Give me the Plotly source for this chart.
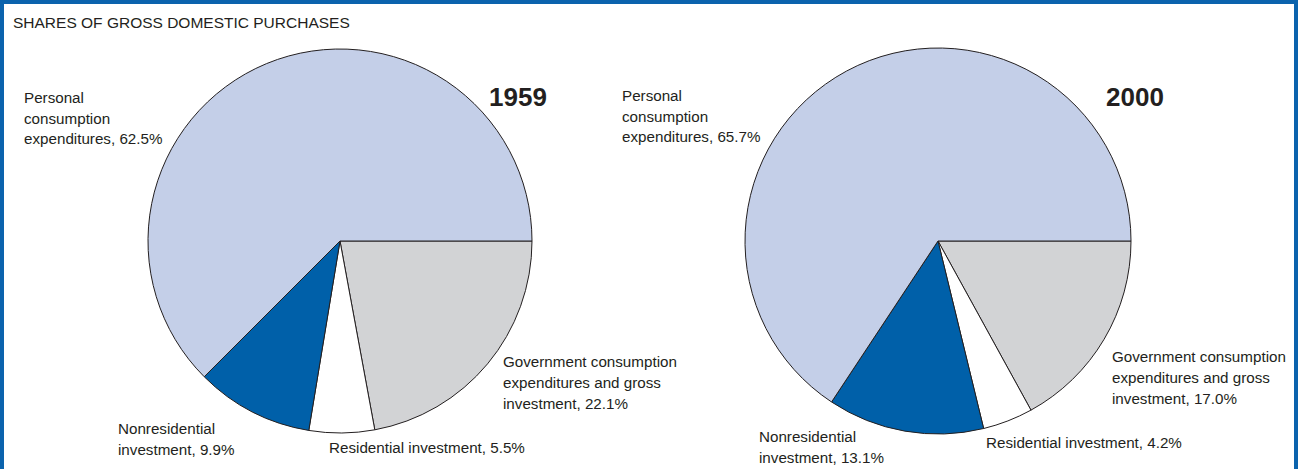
import plotly.graph_objects as go

# Shares of gross domestic purchases, percent
categories = [
    "Personal consumption expenditures",
    "Nonresidential investment",
    "Residential investment",
    "Government consumption expenditures and gross investment",
]
shares_1959 = [62.5, 9.9, 5.5, 22.1]
shares_2000 = [65.7, 13.1, 4.2, 17.0]
years = ["1959", "2000"]

W, H = 1298, 469
slice_colors = ["#c4cfe8", "#0060a9", "#ffffff", "#d2d3d5"]
ink = "#231f20"
font_family = "Liberation Sans, Arial, sans-serif"


def px_x(x):
    return x / W


def px_y(y):
    return 1 - y / H


def pie_domain(cx, cy, r):
    return dict(x=[px_x(cx - r), px_x(cx + r)], y=[px_y(cy + r), px_y(cy - r)])


fig = go.Figure()

# slices run counterclockwise from 3 o'clock: drawn clockwise in reverse order
for values, (cx, cy, r) in zip([shares_1959, shares_2000], [(340, 241, 192), (938, 241, 193)]):
    fig.add_trace(
        go.Pie(
            labels=categories[::-1],
            values=values[::-1],
            sort=False,
            direction="clockwise",
            rotation=90,
            textinfo="none",
            hoverinfo="label+percent",
            marker=dict(colors=slice_colors[::-1], line=dict(color=ink, width=1)),
            domain=pie_domain(cx, cy, r),
            showlegend=False,
        )
    )


def label(lines, x, baseline, pitch=21):
    # one annotation per line so the line spacing matches the original
    for i, line in enumerate(lines):
        fig.add_annotation(
            text=line, x=px_x(x - 2), y=px_y(baseline + i * pitch - 4.5),
            xref="paper", yref="paper", xanchor="left", yanchor="middle",
            showarrow=False, font=dict(family=font_family, size=15.2, color=ink),
        )


def pct(v):
    return f"{v:.1f}%"


# 1959
label(["Personal", "consumption", "expenditures, " + pct(shares_1959[0])], 24, 102, 20.5)
label(["Nonresidential", "investment, " + pct(shares_1959[1])], 118, 433)
label(["Residential investment, " + pct(shares_1959[2])], 329, 452)
label(["Government consumption", "expenditures and gross", "investment, " + pct(shares_1959[3])], 503, 366)
# 2000
label(["Personal", "consumption", "expenditures, " + pct(shares_2000[0])], 622, 99.5, 21)
label(["Nonresidential", "investment, " + pct(shares_2000[1])], 759, 441)
label(["Residential investment, " + pct(shares_2000[2])], 986, 447)
label(["Government consumption", "expenditures and gross", "investment, " + pct(shares_2000[3])], 1112, 361)

for year, x in zip(years, [489, 1106]):
    fig.add_annotation(
        text=f"<b>{year}</b>", x=px_x(x - 2), y=px_y(97), xref="paper", yref="paper",
        xanchor="left", yanchor="middle", showarrow=False,
        font=dict(family=font_family, size=26, color=ink),
    )

fig.add_annotation(
    text="SHARES OF GROSS DOMESTIC PURCHASES", x=px_x(11), y=px_y(22.5),
    xref="paper", yref="paper", xanchor="left", yanchor="middle", showarrow=False,
    font=dict(family=font_family, size=15.5, color=ink),
)

# Blue frame (open at the bottom edge of the crop)
fig.add_shape(
    type="rect", xref="paper", yref="paper",
    x0=px_x(2), x1=px_x(1296), y0=-0.1, y1=px_y(2),
    line=dict(color="#0b63ad", width=4), fillcolor="rgba(0,0,0,0)",
)

fig.update_layout(
    width=W, height=H,
    margin=dict(l=0, r=0, t=0, b=0),
    paper_bgcolor="white", plot_bgcolor="white",
)

fig.write_html(
    "out.html",
    config={"displayModeBar": False},
    post_script="document.body.style.margin='0';",
)
